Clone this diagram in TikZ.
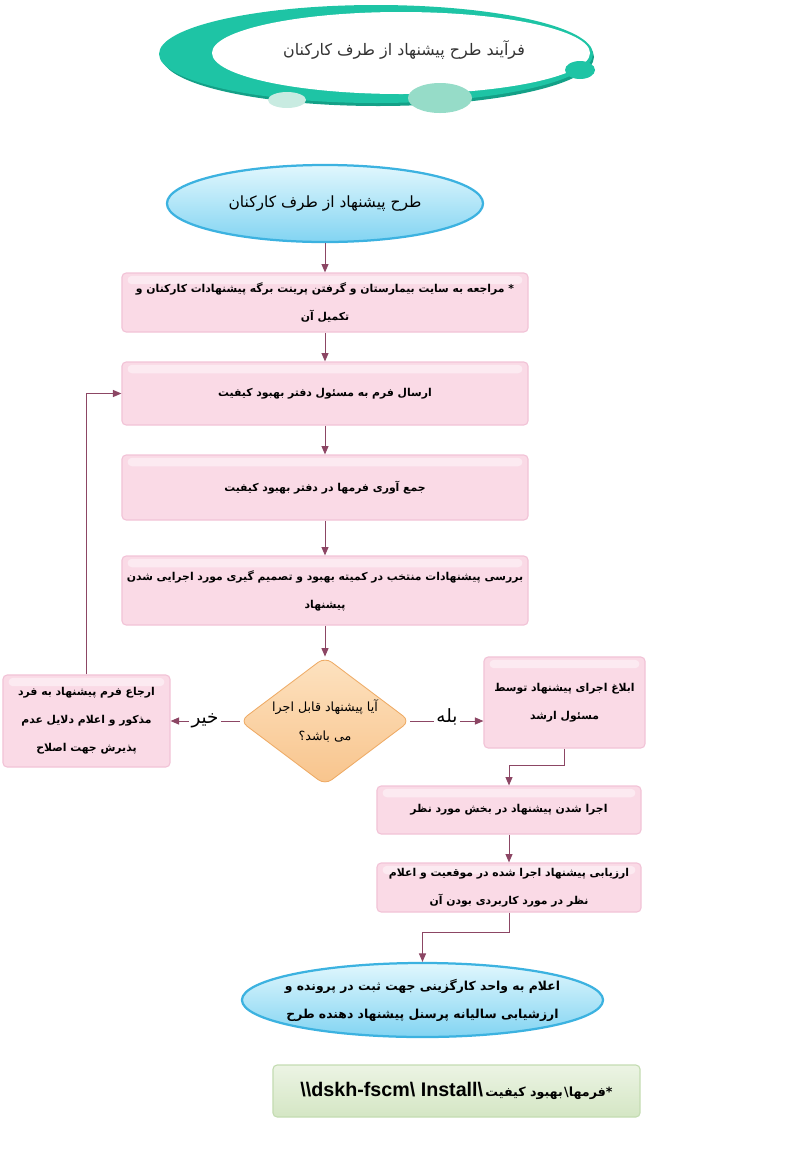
\documentclass[tikz,border=0pt]{standalone}
\usepackage{fontspec}
\usetikzlibrary{shapes.geometric,arrows.meta,positioning}
\newfontfamily\fa[Script=Arabic]{DejaVu Sans}
\newfontfamily\lat{Liberation Sans}
\TeXXeTstate=1
\newcommand\rtl[1]{\beginR #1\endR}

\definecolor{teal1}{RGB}{30,196,165}
\definecolor{teal2}{RGB}{20,160,135}
\definecolor{tealpale}{RGB}{200,235,225}
\definecolor{tealmid}{RGB}{150,220,200}
\definecolor{arrowc}{RGB}{140,70,100}
\definecolor{boxpink}{RGB}{250,218,230}
\definecolor{boxedge}{RGB}{242,195,215}
\definecolor{bluehi}{RGB}{225,247,253}
\definecolor{bluelo}{RGB}{130,212,242}
\definecolor{blueedge}{RGB}{60,178,224}
\definecolor{orhi}{RGB}{253,226,192}
\definecolor{orlo}{RGB}{248,196,140}
\definecolor{oredge}{RGB}{238,170,100}
\definecolor{grhi}{RGB}{236,244,228}
\definecolor{grlo}{RGB}{212,230,196}
\definecolor{gredge}{RGB}{196,220,178}

\tikzset{
  gloss/.style={path picture={\fill[white,opacity=0.45,rounded corners=3pt]
      ([xshift=4pt,yshift=-2pt]path picture bounding box.north west) rectangle
      ([xshift=-4pt,yshift=-8pt]path picture bounding box.north east);}},
  stepbox/.style={draw=boxedge, line width=0.8pt, fill=boxpink, rounded corners=3pt,
      inner sep=0pt, align=center, gloss, font=\fa\bfseries\fontsize{7.7}{20}\selectfont},
  oval/.style={ellipse, draw=blueedge, line width=1.6pt, top color=bluehi, bottom color=bluelo,
      inner sep=0pt, align=center},
  decide/.style={diamond, aspect=1.33, draw=oredge, line width=0.6pt, top color=orhi, bottom color=orlo,
      rounded corners=6pt, inner sep=0pt, align=center, font=\fa\fontsize{9}{20}\selectfont},
  flow/.style={draw=arrowc, line width=0.7pt, -{Triangle[length=6pt,width=5pt]}},
  answer/.style={fill=white, inner sep=2pt, font=\fa\fontsize{13}{15}\selectfont},
}

\begin{document}
\begin{tikzpicture}[x=0.025cm,y=-0.025cm]
  \useasboundingbox (0,0) rectangle (788,1160);

  % heading
  \fill[teal2] (378,57) ellipse (216 and 49);
  \fill[teal1] (376,54) ellipse (217 and 49);
  \fill[white] (401,53) ellipse (189 and 41);
  \fill[teal1] (580,70) ellipse (15 and 9);
  \fill[tealpale] (287,100) ellipse (19 and 8);
  \fill[tealmid] (440,98) ellipse (32 and 15);
  \node[font=\fa\fontsize{11.3}{13}\selectfont, text=black!80] (title) at (404,50) {\rtl{فرآیند طرح پیشنهاد از طرف کارکنان}};

  \node[oval, minimum width=7.9cm, minimum height=1.925cm, font=\fa\fontsize{11}{13}\selectfont] (start) at (325,203.5)
    {\rtl{طرح پیشنهاد از طرف کارکنان}};

  \node[stepbox, minimum width=10.15cm, minimum height=1.475cm] (b1) at (325,302.5)
    {\rtl{* مراجعه به سایت بیمارستان و گرفتن پرینت برگه پیشنهادات کارکنان و}\\ \rtl{تکمیل آن}};
  \node[stepbox, minimum width=10.15cm, minimum height=1.575cm] (b2) at (325,393.5)
    {\rtl{ارسال فرم به مسئول دفتر بهبود کیفیت}};
  \node[stepbox, minimum width=10.15cm, minimum height=1.625cm] (b3) at (325,487.5)
    {\rtl{جمع آوری فرمها در دفتر بهبود کیفیت}};
  \node[stepbox, minimum width=10.15cm, minimum height=1.725cm] (b4) at (325,590.5)
    {\rtl{بررسی پیشنهادات منتخب در کمیته بهبود و تصمیم گیری مورد اجرایی شدن}\\ \rtl{پیشنهاد}};

  \node[decide, minimum width=4.25cm, minimum height=3.2cm] (q) at (325,721)
    {\rtl{آیا پیشنهاد قابل اجرا}\\ \rtl{می باشد؟}};

  \node[stepbox, minimum width=4.175cm, minimum height=2.3cm] (back) at (86.5,721)
    {\rtl{ارجاع فرم پیشنهاد به فرد}\\ \rtl{مذکور و اعلام دلایل عدم}\\ \rtl{پذیرش جهت اصلاح}};
  \node[stepbox, minimum width=4.025cm, minimum height=2.275cm] (tell) at (564.5,702.5)
    {\rtl{ابلاغ اجرای پیشنهاد توسط}\\ \rtl{مسئول ارشد}};

  \node[stepbox, minimum width=6.6cm, minimum height=1.2cm] (b5) at (509,810)
    {\rtl{اجرا شدن پیشنهاد در بخش مورد نظر}};
  \node[stepbox, minimum width=6.6cm, minimum height=1.225cm] (b6) at (509,887.5)
    {\rtl{ارزیابی پیشنهاد اجرا شده در موقعیت و اعلام}\\ \rtl{نظر در مورد کاربردی بودن آن}};

  \node[oval, inner xsep=-11pt, inner ysep=-4pt, minimum width=9.025cm, minimum height=1.85cm,
        font=\fa\bfseries\fontsize{8.8}{20}\selectfont] (stop) at (422.5,1000)
    {\rtl{اعلام به واحد کارگزینی جهت ثبت در پرونده و}\\ \rtl{ارزشیابی سالیانه پرسنل پیشنهاد دهنده طرح}};

  \node[draw=gredge, line width=0.8pt, top color=grhi, bottom color=grlo, rounded corners=3pt,
        minimum width=9.175cm, minimum height=1.3cm, inner sep=0pt] (path) at (456.5,1091)
    {{\lat\bfseries\fontsize{14}{16}\selectfont\textbackslash\textbackslash dskh-fscm\textbackslash\ Install\textbackslash}\,%
     {\fa\bfseries\fontsize{9}{13}\selectfont\rtl{*\kern0pt فرمها\kern0pt\textbackslash\kern1pt بهبود کیفیت}}};

  % connectors
  \draw[flow] (start) -- (b1);
  \draw[flow] (b1) -- (b2);
  \draw[flow] (b2) -- (b3);
  \draw[flow] (b3) -- (b4);
  \draw[flow] (b4) -- (q);
  \draw[flow] (q.west) -- node[answer, pos=0.5] {خیر} (back.east);
  \draw[flow] (q.east) -- node[answer, pos=0.5, yshift=3pt] {بله} (q.east -| tell.west);
  \draw[flow] (back.north) |- (b2.west);
  \draw[flow] (tell.south) -- ++(0,17) -| (b5.north);
  \draw[flow] (b5) -- (b6);
  \draw[flow] (b6.south) -- ++(0,20) -| (stop.north);
\end{tikzpicture}
\end{document}
